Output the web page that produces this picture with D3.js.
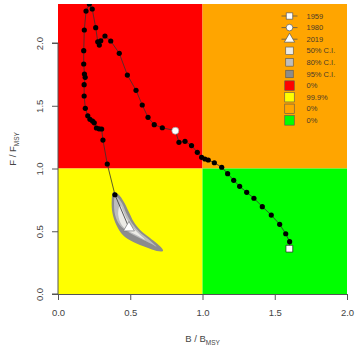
<!DOCTYPE html>
<html>
<head>
<meta charset="utf-8">
<script src="https://cdn.jsdelivr.net/npm/d3@7"></script>
<style>
  body { margin: 0; background: #fff; }
  svg text { font-family: "Liberation Sans", Arial, sans-serif; }
</style>
</head>
<body>
<div id="chart"></div>
<script>
// stock trajectory, 1959 -> 2019
const bRatio = [1.601, 1.603, 1.576, 1.534, 1.476, 1.414, 1.356, 1.306, 1.257, 1.216,
  1.174, 1.133, 1.082, 1.040, 1.017, 0.994, 0.964, 0.924, 0.879, 0.837,
  0.812, 0.722, 0.666, 0.623, 0.583, 0.540, 0.480, 0.424, 0.365, 0.325,
  0.296, 0.286, 0.275, 0.261, 0.237, 0.217, 0.194, 0.182, 0.178, 0.178,
  0.183, 0.188, 0.181, 0.181, 0.189, 0.206, 0.221, 0.239, 0.251, 0.266,
  0.284, 0.302, 0.311, 0.341, 0.394, 0.491];
const fRatio = [0.361, 0.417, 0.480, 0.555, 0.629, 0.696, 0.763, 0.810, 0.858, 0.906,
  0.959, 1.010, 1.046, 1.068, 1.076, 1.089, 1.129, 1.183, 1.217, 1.209,
  1.301, 1.325, 1.349, 1.408, 1.506, 1.623, 1.745, 1.918, 2.016, 2.056,
  2.018, 1.984, 2.010, 2.122, 2.271, 2.311, 2.255, 2.104, 1.939, 1.833,
  1.753, 1.727, 1.668, 1.578, 1.480, 1.420, 1.392, 1.378, 1.364, 1.323,
  1.316, 1.315, 1.227, 1.036, 0.791, 0.528];

// highlighted years and their position in the series
const markYears = ['1959', '1980', '2019'];
const markIndex = [0, 20, 55];

// confidence regions around the last year [B/Bmsy, F/Fmsy]
const ci95 = [[0.383, 0.812], [0.372, 0.749], [0.377, 0.643], [0.404, 0.550], [0.450, 0.468],
  [0.521, 0.414], [0.614, 0.370], [0.683, 0.343], [0.727, 0.343], [0.713, 0.372],
  [0.637, 0.446], [0.567, 0.512], [0.523, 0.578], [0.489, 0.658], [0.454, 0.737], [0.419, 0.792]];
const ci80 = [[0.394, 0.781], [0.388, 0.735], [0.395, 0.629], [0.427, 0.550], [0.487, 0.494],
  [0.567, 0.444], [0.648, 0.398], [0.683, 0.376], [0.637, 0.427], [0.567, 0.490],
  [0.512, 0.563], [0.473, 0.643], [0.443, 0.723], [0.410, 0.771]];
const ci50 = [[0.426, 0.700], [0.417, 0.629], [0.441, 0.550], [0.487, 0.504], [0.556, 0.462],
  [0.602, 0.432], [0.567, 0.472], [0.521, 0.526], [0.480, 0.592], [0.452, 0.658], [0.436, 0.700]];

const xTicks = [0, 0.5, 1, 1.5, 2];
const yTicks = [0, 0.5, 1, 1.5, 2];

const legendLabels = ['1959', '1980', '2019', '50% C.I.', '80% C.I.', '95% C.I.', '0%', '99.9%', '0%', '0%'];
const ciColors = ['#ecebe6', '#bdbdbd', '#8c8c8c'];
const quadColors = { red: '#ff0000', orange: '#ffa500', yellow: '#ffff00', green: '#00ff00' };

const width = 359, height = 348;
const margin = { top: 4, right: 12, bottom: 54, left: 58 };

const svg = d3.select('#chart').append('svg')
  .attr('width', width)
  .attr('height', height);

const x = d3.scaleLinear().domain([0, 2]).range([margin.left, width - margin.right]);
const y = d3.scaleLinear().domain([0, 2.311]).range([height - margin.bottom, margin.top]);

svg.append('clipPath').attr('id', 'plot-clip')
  .append('rect')
  .attr('x', x(0)).attr('y', y(2.311))
  .attr('width', x(2) - x(0)).attr('height', y(0) - y(2.311));

const plot = svg.append('g').attr('clip-path', 'url(#plot-clip)');

// Kobe quadrants
const quads = [
  { x0: 0, x1: 1, y0: 1, y1: 2.311, c: quadColors.red },
  { x0: 1, x1: 2, y0: 1, y1: 2.311, c: quadColors.orange },
  { x0: 0, x1: 1, y0: 0, y1: 1, c: quadColors.yellow },
  { x0: 1, x1: 2, y0: 0, y1: 1, c: quadColors.green }
];
plot.selectAll('rect.quad')
  .data(quads)
  .enter()
  .append('rect')
  .attr('class', 'quad')
  .attr('x', d => x(d.x0))
  .attr('y', d => y(d.y1))
  .attr('width', d => x(d.x1) - x(d.x0))
  .attr('height', d => y(d.y0) - y(d.y1))
  .attr('fill', d => d.c);

// confidence regions
const region = d3.line()
  .x(d => x(d[0]))
  .y(d => y(d[1]))
  .curve(d3.curveCatmullRomClosed.alpha(0.5));

[ci95, ci80, ci50].forEach((pts, i) => {
  plot.append('path')
    .attr('d', region(pts))
    .attr('fill', ciColors[2 - i])
    .attr('stroke', 'none');
});

// trajectory
const traj = d3.range(bRatio.length).map(i => [bRatio[i], fRatio[i]]);
const line = d3.line()
  .x(d => x(d[0]))
  .y(d => y(d[1]));

plot.append('path')
  .attr('d', line(traj))
  .attr('fill', 'none')
  .attr('stroke', '#333')
  .attr('stroke-width', 0.8);

plot.selectAll('circle.pt')
  .data(traj.filter((d, i) => !markIndex.includes(i)))
  .enter()
  .append('circle')
  .attr('class', 'pt')
  .attr('cx', d => x(d[0]))
  .attr('cy', d => y(d[1]))
  .attr('r', 2.6)
  .attr('fill', '#000');

const symbols = [d3.symbolSquare, d3.symbolCircle, d3.symbolTriangle];
const symbolSize = [46, 38, 52];
const symbolStroke = ['#222', '#999', '#777'];

markIndex.forEach((idx, i) => {
  plot.append('path')
    .attr('d', d3.symbol().type(symbols[i]).size(symbolSize[i])())
    .attr('transform', `translate(${x(bRatio[idx])},${y(fRatio[idx])})`)
    .attr('fill', '#fff')
    .attr('stroke', symbolStroke[i])
    .attr('stroke-width', 0.7);
});

// axes
const axisColor = '#555';
const xAxis = svg.append('g')
  .attr('transform', `translate(0,${y(0)})`)
  .call(d3.axisBottom(x).tickValues(xTicks).tickFormat(d3.format('.1f')).tickSize(6).tickPadding(9));
xAxis.select('.domain').attr('stroke', axisColor);
xAxis.selectAll('.tick line').attr('stroke', axisColor);
xAxis.selectAll('.tick text').attr('fill', '#444').style('font-size', '9.5px');

const yAxis = svg.append('g')
  .attr('transform', `translate(${x(0)},0)`)
  .call(d3.axisLeft(y).tickValues(yTicks).tickFormat(d3.format('.1f')).tickSize(6));
yAxis.select('.domain').attr('d', `M-6,${y(0)}H0V${y(2)}H-6`).attr('stroke', axisColor);
yAxis.selectAll('.tick line').attr('stroke', axisColor);
yAxis.selectAll('.tick text')
  .attr('fill', '#444')
  .style('font-size', '9.5px')
  .attr('x', null)
  .attr('text-anchor', 'middle')
  .attr('transform', 'translate(-18,0) rotate(-90)')
  .attr('y', 0)
  .attr('dy', '0.35em');

// axis titles
const xt = svg.append('text')
  .attr('x', (x(0) + x(2)) / 2)
  .attr('y', 342)
  .attr('text-anchor', 'middle')
  .attr('fill', '#444')
  .style('font-size', '9.5px');
xt.append('tspan').text('B / B');
xt.append('tspan').text('MSY').attr('dy', 2.5).style('font-size', '6.5px');

const yt = svg.append('text')
  .attr('transform', `translate(16,${(y(0) + y(2.311)) / 2}) rotate(-90)`)
  .attr('text-anchor', 'middle')
  .attr('fill', '#444')
  .style('font-size', '9.5px');
yt.append('tspan').text('F / F');
yt.append('tspan').text('MSY').attr('dy', 2.5).style('font-size', '6.5px');

// legend
const lg = svg.append('g').attr('transform', 'translate(289.5,16)');
const rowH = 11.6;
const boxFills = [ciColors[0], ciColors[1], ciColors[2], quadColors.red, quadColors.yellow, quadColors.orange, quadColors.green];

legendLabels.forEach((lab, i) => {
  const row = lg.append('g').attr('transform', `translate(0,${i * rowH})`);
  if (i < 3) {
    row.append('line')
      .attr('x1', -8).attr('x2', 8)
      .attr('stroke', '#555').attr('stroke-width', 0.8);
    row.append('path')
      .attr('d', d3.symbol().type(symbols[i]).size(symbolSize[i] * 0.9)())
      .attr('fill', '#fff')
      .attr('stroke', '#555')
      .attr('stroke-width', 0.7);
  } else {
    const s = i < 6 ? 7.5 : 9.5;
    row.append('rect')
      .attr('x', -s / 2).attr('y', -s / 2)
      .attr('width', s).attr('height', s)
      .attr('fill', boxFills[i - 3])
      .attr('stroke', '#555')
      .attr('stroke-width', 0.6);
  }
  row.append('text')
    .attr('x', 17)
    .attr('dy', '0.35em')
    .attr('fill', '#4a3a2a')
    .style('font-size', '7.5px')
    .text(lab);
});
</script>
</body>
</html>
